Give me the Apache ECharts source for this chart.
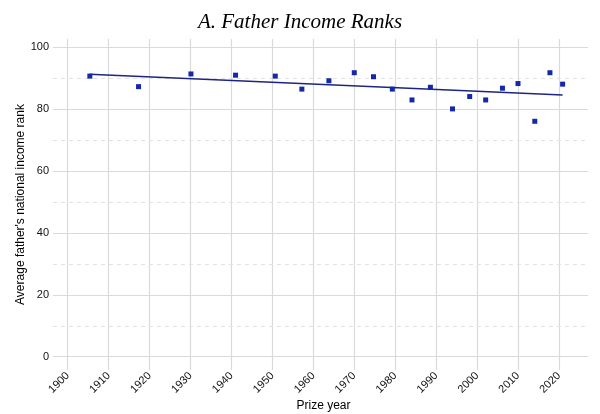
<!DOCTYPE html>
<html>
<head>
<meta charset="utf-8">
<script src="https://cdn.jsdelivr.net/npm/echarts@6/dist/echarts.min.js"></script>
<style>
html,body{margin:0;padding:0;background:#fff;}
#chart{width:600px;height:414px;}
</style>
</head>
<body>
<div id="chart"></div>
<script>
const years = [1905.4, 1917.3, 1930.1, 1941.0, 1950.7, 1957.2, 1963.8, 1970.0, 1974.7, 1979.3, 1984.1, 1988.6, 1994.0, 1998.2, 2002.1, 2006.2, 2010.0, 2014.1, 2017.8, 2020.9];
const ranks = [90.7, 87.3, 91.4, 91.0, 90.7, 86.5, 89.2, 91.8, 90.5, 86.5, 83.0, 87.1, 80.1, 84.1, 83.0, 86.8, 88.3, 76.1, 91.8, 88.1];
const trendYears = [1905.3, 2020.9];
const trendValues = [91.3, 84.6];
const xTicks = [1900, 1910, 1920, 1930, 1940, 1950, 1960, 1970, 1980, 1990, 2000, 2010, 2020];
const yTicks = [0, 20, 40, 60, 80, 100];
const yMinorTicks = [10, 30, 50, 70, 90];

const font = '"Liberation Sans", Arial, Helvetica, sans-serif';
const chart = echarts.init(document.getElementById('chart'));

const gridLines = [];
xTicks.forEach(v => gridLines.push({xAxis: v, lineStyle: {color: '#dadada', width: 1.2, type: 'solid'}}));
yTicks.forEach(v => gridLines.push({yAxis: v, lineStyle: {color: '#dadada', width: 1.2, type: 'solid'}}));
yMinorTicks.forEach(v => gridLines.push({yAxis: v, lineStyle: {color: '#e2e2e2', width: 1, type: [4, 4]}}));

chart.setOption({
  animation: false,
  backgroundColor: '#fff',
  title: {
    text: 'A. Father Income Ranks',
    left: 'center',
    top: 7,
    textStyle: {fontFamily: '"Liberation Serif", "Times New Roman", serif', fontStyle: 'italic', fontWeight: 'normal', fontSize: 21, color: '#000'}
  },
  grid: {left: 53, right: 12, top: 39, bottom: 44, containLabel: false, outerBoundsMode: 'none'},
  xAxis: {
    type: 'value',
    min: 1896.4,
    max: 2027.1,
    name: 'Prize year',
    nameLocation: 'middle',
    nameGap: 30,
    nameMoveOverlap: false,
    nameTextStyle: {fontFamily: font, fontSize: 12, color: '#000', padding: [0, 0, 0, 6]},
    axisLine: {show: false},
    axisTick: {show: false, customValues: xTicks},
    splitLine: {show: false},
    axisLabel: {customValues: xTicks, rotate: 45, margin: 4, fontFamily: font, fontSize: 11, color: '#111', formatter: v => String(Math.round(v))}
  },
  yAxis: {
    type: 'value',
    min: -4.3,
    max: 102.7,
    name: "Average father's national income rank",
    nameLocation: 'middle',
    nameGap: 26,
    nameMoveOverlap: false,
    nameTextStyle: {fontFamily: font, fontSize: 12, color: '#000'},
    axisLine: {show: false},
    axisTick: {show: false, customValues: yTicks},
    splitLine: {show: false},
    axisLabel: {customValues: yTicks, margin: 4, fontFamily: font, fontSize: 11, color: '#111'}
  },
  series: [
    {
      type: 'scatter',
      data: [],
      silent: true,
      z: 0,
      markLine: {
        silent: true,
        z: 0,
        symbol: ['none', 'none'],
        label: {show: false},
        animation: false,
        data: gridLines
      }
    },
    {
      type: 'line',
      data: trendYears.map((y, i) => [y, trendValues[i]]),
      showSymbol: false,
      symbol: 'none',
      z: 3,
      lineStyle: {color: '#1c2580', width: 1.3}
    },
    {
      type: 'scatter',
      data: years.map((y, i) => [y, ranks[i]]),
      symbol: 'rect',
      symbolSize: 5,
      z: 4,
      itemStyle: {color: '#1428a8', opacity: 1}
    }
  ]
});
</script>
</body>
</html>
